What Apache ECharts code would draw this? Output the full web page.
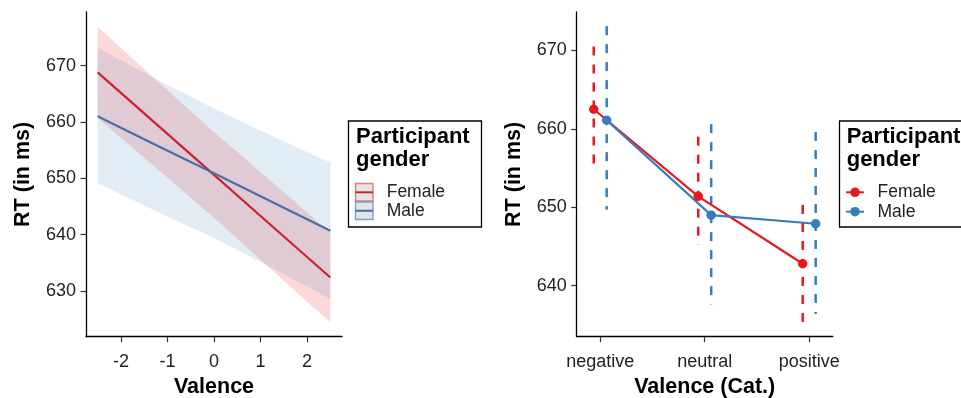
<!DOCTYPE html>
<html>
<head>
<meta charset="utf-8">
<script src="https://cdn.jsdelivr.net/npm/echarts@6/dist/echarts.min.js"></script>
<style>
html,body{margin:0;padding:0;background:#fff}
#main{width:961px;height:398px}
</style>
</head>
<body>
<div id="main"></div>
<script>
// left panel: fitted lines with confidence bands (continuous valence)
var valence = [-2.5, -1.25, 0, 1.25, 2.5];
var femaleFit = [668.8, 659.7, 650.6, 641.5, 632.4];
var femaleLower = [660.7, 651.9, 643.0, 633.7, 624.4];
var femaleUpper = [676.9, 667.5, 658.2, 649.3, 640.4];
var maleFit = [661.0, 655.9, 650.9, 645.8, 640.7];
var maleLower = [649.1, 644.2, 639.4, 634.1, 628.6];
var maleUpper = [673.1, 667.6, 662.4, 657.5, 652.8];
var leftXTicks = [-2, -1, 0, 1, 2];
var leftYTicks = [630, 640, 650, 660, 670];

// right panel: means and intervals per valence category
var valenceCat = ['negative', 'neutral', 'positive'];
var femaleMean = [662.5, 651.4, 642.8];
var femaleLow = [654.5, 645.2, 635.3];
var femaleHigh = [670.5, 659.0, 650.3];
var maleMean = [661.1, 649.0, 647.9];
var maleLow = [649.7, 637.6, 636.4];
var maleHigh = [673.1, 660.6, 659.6];
var catTicks = [1, 2, 3];
var rightYTicks = [640, 650, 660, 670];

var FONT = 'Liberation Sans';
var dodge = 0.062;

function zip() {
	var arrs = arguments, out = [];
	for (var i = 0; i < arrs[0].length; i++) {
		var row = [];
		for (var j = 0; j < arrs.length; j++) row.push(arrs[j][i]);
		out.push(row);
	}
	return out;
}

function bandItem(fill) {
	return function(params, api) {
		if (params.dataIndexInside !== 0) return;
		var n = params.dataInsideLength, up = [], lo = [];
		for (var i = 0; i < n; i++) {
			up.push(api.coord([api.value(0, i), api.value(2, i)]));
			lo.unshift(api.coord([api.value(0, i), api.value(1, i)]));
		}
		return {type: 'polygon', shape: {points: up.concat(lo)}, style: {fill: fill}};
	};
}

function errItem(color) {
	return function(params, api) {
		var a = api.coord([api.value(0), api.value(2)]);
		var b = api.coord([api.value(0), api.value(1)]);
		return {
			type: 'line',
			shape: {x1: a[0], y1: a[1], x2: b[0], y2: b[1]},
			style: {stroke: color, lineWidth: 2.5, lineDash: [9, 9]}
		};
	};
}

var femaleX = catTicks.map(function(c) { return c - dodge; });
var maleX = catTicks.map(function(c) { return c + dodge; });

function axisCommon(ticks) {
	return {
		axisLine: {show: true, onZero: false, lineStyle: {color: '#000', width: 1.3}},
		axisTick: {show: true, length: 5.5, customValues: ticks, lineStyle: {color: '#333', width: 1.2}},
		splitLine: {show: false},
		nameTextStyle: {fontFamily: FONT, fontSize: 21.5, fontWeight: 'bold', color: '#000'}
	};
}

function xAxis(idx, min, max, ticks, name, fmt) {
	var a = axisCommon(ticks);
	a.type = 'value'; a.gridIndex = idx; a.min = min; a.max = max;
	a.name = name; a.nameLocation = 'middle'; a.nameGap = 35;
	a.axisLabel = {customValues: ticks, margin: 16, fontFamily: FONT, fontSize: 18, color: '#222', formatter: fmt};
	return a;
}

function yAxis(idx, min, max, ticks) {
	var a = axisCommon(ticks);
	a.type = 'value'; a.gridIndex = idx; a.min = min; a.max = max;
	a.name = 'RT (in ms)'; a.nameLocation = 'middle'; a.nameGap = 52; a.nameRotate = 90;
	a.axisLabel = {customValues: ticks, margin: 10, fontFamily: FONT, fontSize: 18, color: '#222'};
	return a;
}

var myChart = echarts.init(document.getElementById('main'));
var option = {
	backgroundColor: '#fff',
	animation: false,
	grid: [
		{left: 86, top: 12, width: 256, height: 324.7, outerBoundsMode: 'none', containLabel: false},
		{left: 576.7, top: 12, width: 256, height: 324.7, outerBoundsMode: 'none', containLabel: false}
	],
	xAxis: [
		xAxis(0, -2.75, 2.75, leftXTicks, 'Valence', function(v) { return String(v); }),
		xAxis(1, 0.775, 3.225, catTicks, 'Valence (Cat.)', function(v) { return valenceCat[Math.round(v) - 1]; })
	],
	yAxis: [
		yAxis(0, 621.9, 679.5, leftYTicks),
		yAxis(1, 633.5, 674.9, rightYTicks)
	],
	legend: {
		data: ['Female', 'Male'],
		orient: 'vertical',
		left: 845,
		top: 182.6,
		padding: 0,
		itemGap: 0,
		itemWidth: 18,
		itemHeight: 12,
		textStyle: {fontFamily: FONT, fontSize: 17.5, color: '#222', lineHeight: 19.4, padding: [0, 0, 0, 8.5]}
	},
	graphic: [
		{type: 'rect', shape: {x: 348.5, y: 121, width: 133, height: 106}, style: {fill: '#fff', stroke: '#000', lineWidth: 1.3}},
		{type: 'text', x: 356, y: 125, style: {text: 'Participant\ngender', font: 'bold 22px "Liberation Sans"', lineHeight: 23.5, fill: '#000'}},
		{type: 'rect', shape: {x: 355.5, y: 183.5, width: 17.5, height: 17.5}, style: {fill: '#e4e4e4', stroke: 'rgba(236,80,85,0.75)', lineWidth: 1.4}},
		{type: 'rect', shape: {x: 355.5, y: 202, width: 17.5, height: 17.5}, style: {fill: '#e4e4e4', stroke: 'rgba(70,140,200,0.75)', lineWidth: 1.4}},
		{type: 'line', shape: {x1: 355.5, y1: 192.3, x2: 373, y2: 192.3}, style: {stroke: '#cd2231', lineWidth: 2}},
		{type: 'line', shape: {x1: 355.5, y1: 210.8, x2: 373, y2: 210.8}, style: {stroke: '#4a6ea8', lineWidth: 2}},
		{type: 'text', x: 386.7, y: 192.3, style: {text: 'Female', font: '17.5px "Liberation Sans"', fill: '#222', verticalAlign: 'middle'}},
		{type: 'text', x: 386.7, y: 211.3, style: {text: 'Male', font: '17.5px "Liberation Sans"', fill: '#222', verticalAlign: 'middle'}},
		{type: 'rect', shape: {x: 839.5, y: 121, width: 140, height: 106}, style: {fill: '#fff', stroke: '#000', lineWidth: 1.3}},
		{type: 'text', x: 846.7, y: 125, style: {text: 'Participant\ngender', font: 'bold 22px "Liberation Sans"', lineHeight: 23.5, fill: '#000'}}
	],
	series: [
		{
			name: 'Female band', type: 'custom', xAxisIndex: 0, yAxisIndex: 0,
			data: zip(valence, femaleLower, femaleUpper),
			encode: {x: 0, y: [1, 2]},
			renderItem: bandItem('rgba(245,60,65,0.2)'), silent: true
		},
		{
			name: 'Male band', type: 'custom', xAxisIndex: 0, yAxisIndex: 0,
			data: zip(valence, maleLower, maleUpper),
			encode: {x: 0, y: [1, 2]},
			renderItem: bandItem('rgba(60,125,190,0.15)'), silent: true
		},
		{
			name: 'Female fit', type: 'line', xAxisIndex: 0, yAxisIndex: 0,
			data: zip(valence, femaleFit), symbol: 'none',
			lineStyle: {color: '#cd2231', width: 2.2}, itemStyle: {color: '#cd2231'}
		},
		{
			name: 'Male fit', type: 'line', xAxisIndex: 0, yAxisIndex: 0,
			data: zip(valence, maleFit), symbol: 'none',
			lineStyle: {color: '#4a6ea8', width: 2.2}, itemStyle: {color: '#4a6ea8'}
		},
		{
			name: 'Female CI', type: 'custom', xAxisIndex: 1, yAxisIndex: 1,
			data: zip(femaleX, femaleLow, femaleHigh),
			encode: {x: 0, y: [1, 2]},
			renderItem: errItem('#e41a1c'), silent: true
		},
		{
			name: 'Male CI', type: 'custom', xAxisIndex: 1, yAxisIndex: 1,
			data: zip(maleX, maleLow, maleHigh),
			encode: {x: 0, y: [1, 2]},
			renderItem: errItem('#377eb8'), silent: true
		},
		{
			name: 'Female', type: 'line', xAxisIndex: 1, yAxisIndex: 1,
			data: zip(femaleX, femaleMean), symbol: 'circle', symbolSize: 9.5,
			lineStyle: {color: '#e41a1c', width: 2.2}, itemStyle: {color: '#e41a1c', borderWidth: 0}
		},
		{
			name: 'Male', type: 'line', xAxisIndex: 1, yAxisIndex: 1,
			data: zip(maleX, maleMean), symbol: 'circle', symbolSize: 9.5,
			lineStyle: {color: '#377eb8', width: 2.2}, itemStyle: {color: '#377eb8', borderWidth: 0}
		}
	]
};
myChart.setOption(option);
</script>
</body>
</html>
